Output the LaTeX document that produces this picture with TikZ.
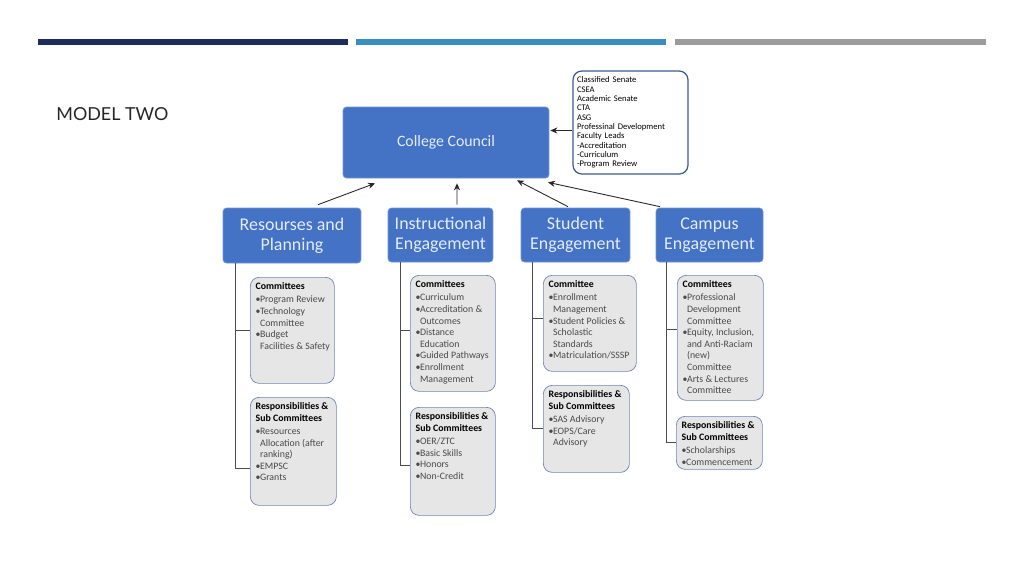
\documentclass[tikz,border=0pt]{standalone}
\usepackage{fontspec}
\setmainfont{Carlito}
\newfontfamily\titlefont{Lato}
\usetikzlibrary{arrows.meta,calc}
\definecolor{navybar}{HTML}{1F2D5C}
\definecolor{bluebar}{HTML}{3A8DBF}
\definecolor{graybar}{HTML}{9C9C9C}
\definecolor{boxblue}{HTML}{4472C4}
\definecolor{boxline}{HTML}{7194D3}
\definecolor{boxtext}{HTML}{E4ECF8}
\definecolor{subfill}{HTML}{E6E6E6}
\definecolor{subline}{HTML}{6F86B3}
\definecolor{infoline}{HTML}{3C5A8A}
\definecolor{itemgray}{HTML}{4A4A4A}
\newlength\unitpx
\setlength\unitpx{0.02cm}
\newcommand{\bul}{\makebox[0.45em][l]{\textbullet}}
\newcommand{\cnt}{\hspace*{0.45em}}
\newcommand{\subtext}[3]{\parbox[t][\dimexpr #2\unitpx-6pt\relax][t]{\dimexpr #1\unitpx-6pt\relax}{\raggedright #3}}
\begin{document}
\begin{tikzpicture}[x=0.02cm,y=-0.02cm,
    head/.style={draw=boxline,fill=boxblue,rounded corners=2pt,text=boxtext,align=center,inner sep=0pt},
    cat/.style={head,minimum height=1.08cm,font=\fontsize{10.2}{11.6}\selectfont},
    sub/.style={draw=subline,fill=subfill,rounded corners=5pt,inner sep=3pt,anchor=north west,font=\fontsize{5.6}{6.6}\selectfont},
    arr/.style={-{Stealth[length=4pt,width=3.5pt]},draw=black!85,line width=0.5pt},
    tree/.style={draw=black!70,line width=0.5pt}]
  \useasboundingbox (0,0) rectangle (1024,576);
  \fill[navybar] (38,39) rectangle (348,45);
  \fill[bluebar] (356,39) rectangle (666,45);
  \fill[graybar] (675,39) rectangle (986,45);
  \node[anchor=west,inner sep=0pt,font=\titlefont\fontsize{10.2}{12}\selectfont,text=black!85] (title) at (56,114) {MODEL TWO};
  \node[head,minimum width=4.12cm,minimum height=1.42cm,font=\fontsize{9}{10}\selectfont] (council) at (446,142.5) {College Council};
  \node[draw=infoline,fill=white,rounded corners=5pt,line width=0.7pt,minimum width=2.3cm,minimum height=1.98cm,
    text width=2.14cm,inner xsep=0.08cm,align=left,font=\fontsize{4.9}{5.3}\selectfont] (info) at (630.5,122.5)
    {Classified Senate\\CSEA\\Academic Senate\\CTA\\ASG\\Professinal Development\\Faculty Leads\\-Accreditation\\-Curriculum\\-Program Review};
  \node[cat,minimum width=2.76cm,minimum height=1.1cm] (rp) at (292,235.5) {Resourses and\\Planning};
  \node[cat,minimum width=2.1cm] (ie) at (440.5,235) {Instructional\\Engagement};
  \node[cat,minimum width=2.18cm] (se) at (575.5,235) {Student\\Engagement};
  \node[cat,minimum width=2.14cm] (ce) at (709.5,235) {Campus\\Engagement};
  \node[sub] (rpc) at (250,277) {\subtext{84}{106}{\textbf{Committees}\\[1pt]\color{itemgray}
    \bul Program Review\\\bul Technology\\\cnt Committee\\\bul Budget\\\cnt\mbox{Facilities \& Safety}}};
  \node[sub] (rpr) at (250,397) {\subtext{86}{108}{\textbf{Responsibilities \&}\\\textbf{Sub Committees}\\[1pt]\color{itemgray}
    \bul Resources\\\cnt Allocation (after\\\cnt ranking)\\\bul EMPSC\\\bul Grants}};
  \node[sub] (iec) at (410,275) {\subtext{85}{116}{\textbf{Committees}\\[1pt]\color{itemgray}
    \bul Curriculum\\\bul Accreditation \&\\\cnt Outcomes\\\bul Distance\\\cnt Education\\\bul Guided Pathways\\\bul Enrollment\\\cnt Management}};
  \node[sub] (ier) at (410,407) {\subtext{85}{108}{\textbf{Responsibilities \&}\\\textbf{Sub Committees}\\[1pt]\color{itemgray}
    \bul OER/ZTC\\\bul Basic Skills\\\bul Honors\\\bul Non-Credit}};
  \node[sub] (sec) at (543,275) {\subtext{93}{96}{\textbf{Committee}\\[1pt]\color{itemgray}
    \bul Enrollment\\\cnt Management\\\bul Student Policies \&\\\cnt Scholastic\\\cnt Standards\\\bul Matriculation/SSSP}};
  \node[sub] (ser) at (543,385) {\subtext{86}{87}{\textbf{Responsibilities \&}\\\textbf{Sub Committees}\\[1pt]\color{itemgray}
    \bul SAS Advisory\\\bul EOPS/Care\\\cnt Advisory}};
  \node[sub] (cec) at (677,275) {\subtext{86}{125}{\textbf{Committees}\\[1pt]\color{itemgray}
    \bul Professional\\\cnt Development\\\cnt Committee\\\bul Equity, Inclusion,\\\cnt and Anti-Raciam\\\cnt (new)\\\cnt Committee\\\bul Arts \& Lectures\\\cnt Committee}};
  \node[sub] (cer) at (676,416) {\subtext{86}{53}{\textbf{Responsibilities \&}\\\textbf{Sub Committees}\\[1pt]\color{itemgray}
    \bul Scholarships\\\bul Commencement}};
  \begin{scope}
    \draw[arr] ($(info.west)+(0,8)$) -- ($(council.east)+(1,-12)$);
    \draw[arr] ($(rp.north)+(26,-3)$) -- ($(council.south)+(-71,5)$);
    \draw[arr] ($(ie.north)+(16.5,-3)$) -- ($(council.south)+(11,5)$);
    \draw[arr] ($(se.north)+(-7.5,-1)$) -- ($(council.south)+(71,2)$);
    \draw[arr] ($(ce.north)+(-49.5,-1)$) -- ($(council.south)+(102,4)$);
    \draw[tree] ($(rp.south west)+(13,0)$) |- (rpc.west);
    \draw[tree] ($(rp.south west)+(13,0)$) |- ($(rpr.west)+(0,17)$);
    \draw[tree] ($(ie.south west)+(13,0)$) |- ($(iec.west)+(0,-3)$);
    \draw[tree] ($(ie.south west)+(13,0)$) |- ($(ier.west)+(0,4)$);
    \draw[tree] ($(se.south west)+(12,0)$) |- ($(sec.west)+(0,-5)$);
    \draw[tree] ($(se.south west)+(12,0)$) |- (ser.west);
    \draw[tree] ($(ce.south west)+(11,0)$) |- ($(cec.west)+(0,-8.5)$);
    \draw[tree] ($(ce.south west)+(11,0)$) |- (cer.west);
  \end{scope}
\end{tikzpicture}
\end{document}
